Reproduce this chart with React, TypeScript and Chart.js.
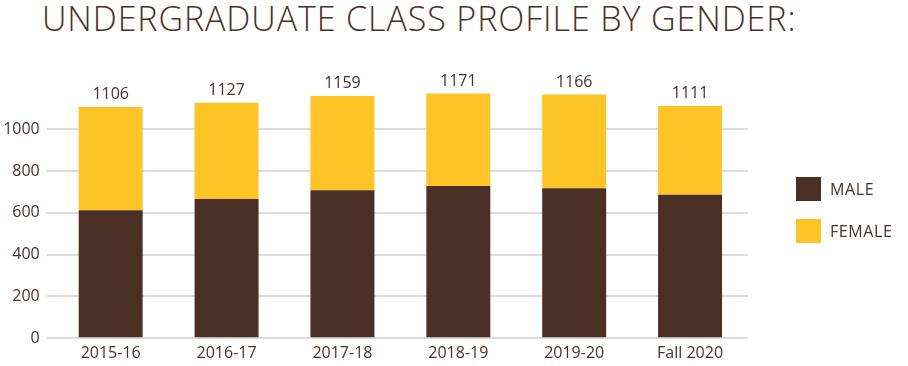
import React, { useEffect, useRef } from "react";
import { Chart, registerables } from "chart.js";

Chart.register(...registerables);

const categories = ["2015-16", "2016-17", "2017-18", "2018-19", "2019-20", "Fall 2020"];
const totals = [1106, 1127, 1159, 1171, 1166, 1111];
const male = [612, 666, 708, 729, 718, 687];
const female = [494, 461, 451, 442, 448, 424];
const yTicksShown = [0, 200, 400, 600, 800, 1000];

const MALE_COLOR = "#4a2f25";
const FEMALE_COLOR = "#fec425";
const TEXT_COLOR = "#4a3028";
const FONT = "'Open Sans', sans-serif";

const totalsPlugin = {
  id: "totals",
  afterDatasetsDraw(chart: any) {
    const ctx = chart.ctx;
    const meta = chart.getDatasetMeta(1);
    ctx.save();
    ctx.fillStyle = TEXT_COLOR;
    ctx.font = `16px ${FONT}`;
    ctx.textAlign = "center";
    ctx.textBaseline = "alphabetic";
    meta.data.forEach((bar: any, i: number) => {
      ctx.fillText(String(totals[i]), bar.x, bar.y - 8);
    });
    ctx.restore();
  },
};

export default function App() {
  const ref = useRef<HTMLCanvasElement | null>(null);

  useEffect(() => {
    document.body.style.margin = "0";
    const canvas = ref.current;
    if (!canvas) return;
    const chart = new Chart(canvas, {
      type: "bar",
      data: {
        labels: categories,
        datasets: [
          {
            label: "MALE",
            data: male,
            backgroundColor: MALE_COLOR,
            borderWidth: 0,
            barPercentage: 0.552,
            categoryPercentage: 1,
          },
          {
            label: "FEMALE",
            data: female,
            backgroundColor: FEMALE_COLOR,
            borderWidth: 0,
            barPercentage: 0.552,
            categoryPercentage: 1,
          },
        ],
      },
      options: {
        animation: false,
        responsive: false,
        maintainAspectRatio: false,
        layout: { padding: { top: 77, right: 160, bottom: 0, left: 0 } },
        plugins: {
          legend: { display: false },
          tooltip: { enabled: false },
          title: { display: false },
        },
        scales: {
          x: {
            stacked: true,
            grid: { display: false, drawTicks: false },
            border: { display: false },
            ticks: {
              color: TEXT_COLOR,
              font: { family: "Open Sans", size: 16 },
              padding: 6,
              maxRotation: 0,
            },
            afterFit(scale: any) {
              scale.height = 27.7;
            },
          },
          y: {
            stacked: true,
            min: 0,
            max: 1250,
            afterBuildTicks(scale: any) {
              scale.ticks = yTicksShown.map((v) => ({ value: v }));
            },
            grid: {
              color: "#dcdcdc",
              lineWidth: 2,
              drawTicks: true,
              tickLength: 6,
              tickColor: "#dcdcdc",
            },
            border: { display: false },
            ticks: {
              color: TEXT_COLOR,
              font: { family: "Open Sans", size: 16 },
              padding: 7,
              callback: (v: any) => String(v),
            },
            afterFit(scale: any) {
              scale.width = 52.75;
            },
          },
        },
      },
      plugins: [totalsPlugin],
    });
    return () => chart.destroy();
  }, []);

  const legendItem = (color: string, text: string, top: number) => (
    <div style={{ position: "absolute", left: 796, top, display: "flex", alignItems: "center" }}>
      <div style={{ width: 25, height: 24, background: color }} />
      <span
        style={{
          marginLeft: 9,
          fontFamily: FONT,
          fontSize: 16,
          color: TEXT_COLOR,
          letterSpacing: 0.6,
          lineHeight: "24px",
        }}
      >
        {text}
      </span>
    </div>
  );

  return (
    <div style={{ position: "relative", width: 908, height: 366, overflow: "hidden" }}>
      <div
        style={{
          position: "absolute",
          left: 42,
          top: -5,
          fontFamily: FONT,
          fontWeight: 300,
          fontSize: 34,
          color: TEXT_COLOR,
          whiteSpace: "nowrap",
          letterSpacing: 0.9,
        }}
      >
        UNDERGRADUATE CLASS PROFILE BY GENDER:
      </div>
      <canvas ref={ref} width={908} height={366} style={{ position: "absolute", left: 0, top: 0 }} />
      {legendItem(MALE_COLOR, "MALE", 177)}
      {legendItem(FEMALE_COLOR, "FEMALE", 219)}
    </div>
  );
}
